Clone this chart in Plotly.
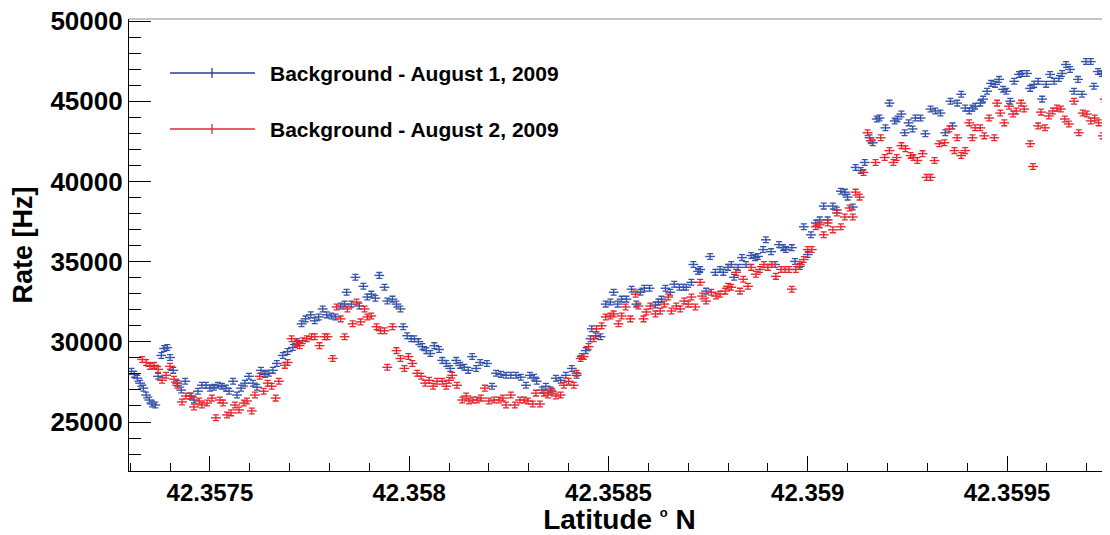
import plotly.graph_objects as go

# ---------------- data ----------------
lat_aug1 = [
    42.357303, 42.357310, 42.357318, 42.357325, 42.357333, 42.357340, 42.357348, 42.357355, 42.357363, 42.357370,
    42.357378, 42.357385, 42.357393, 42.357400, 42.357408, 42.357418, 42.357428, 42.357438, 42.357450, 42.357460,
    42.357470, 42.357480, 42.357490, 42.357500, 42.357510, 42.357520, 42.357530, 42.357540, 42.357548, 42.357558,
    42.357568, 42.357578, 42.357588, 42.357598, 42.357608, 42.357618, 42.357628, 42.357638, 42.357648, 42.357658,
    42.357668,
    42.357683, 42.357695, 42.357708, 42.357718, 42.357730, 42.357740, 42.357753, 42.357763, 42.357773, 42.357783,
    42.357793, 42.357805, 42.357815, 42.357828, 42.357838, 42.357843, 42.357855, 42.357865, 42.357875, 42.357885,
    42.357895, 42.357905, 42.357915, 42.357925, 42.357938, 42.357945, 42.357958, 42.357968, 42.357978, 42.357985,
    42.357995, 42.358005, 42.358013, 42.358023, 42.358033, 42.358043, 42.358053, 42.358063, 42.358075, 42.358083,
    42.358093, 42.358103, 42.358118, 42.358128, 42.358138, 42.358148, 42.358158, 42.358168, 42.358178, 42.358195,
    42.358208, 42.358218, 42.358230, 42.358243, 42.358255, 42.358268, 42.358280, 42.358293, 42.358303, 42.358313,
    42.358320, 42.358333, 42.358343, 42.358355, 42.358368, 42.358380, 42.358393,
    42.358408, 42.358420, 42.358433, 42.358443, 42.358455, 42.358458, 42.358468, 42.358480, 42.358493, 42.358505,
    42.358513, 42.358523, 42.358533, 42.358545, 42.358558, 42.358570, 42.358580, 42.358590, 42.358603, 42.358618,
    42.358625, 42.358633, 42.358643, 42.358655, 42.358665, 42.358678, 42.358688, 42.358695, 42.358708, 42.358713,
    42.358725, 42.358730, 42.358745, 42.358755, 42.358768, 42.358780, 42.358788, 42.358800, 42.358808, 42.358815,
    42.358825, 42.358835, 42.358845, 42.358858, 42.358868, 42.358875, 42.358888, 42.358895, 42.358908, 42.358918,
    42.358928, 42.358938, 42.358945, 42.358960, 42.358968, 42.358980, 42.358990, 42.359000, 42.359008, 42.359020,
    42.359030, 42.359040, 42.359050, 42.359063, 42.359073, 42.359083, 42.359093, 42.359100, 42.359113, 42.359120,
    42.359133, 42.359143, 42.359155, 42.359163, 42.359173, 42.359180, 42.359195, 42.359205, 42.359218, 42.359225,
    42.359235, 42.359243, 42.359253, 42.359263, 42.359270, 42.359283, 42.359295, 42.359308, 42.359320, 42.359333,
    42.359345, 42.359358, 42.359363, 42.359375, 42.359385, 42.359395, 42.359405, 42.359413, 42.359420, 42.359433,
    42.359440, 42.359450, 42.359460, 42.359470, 42.359480, 42.359490, 42.359498, 42.359508, 42.359518, 42.359530,
    42.359538, 42.359550, 42.359558, 42.359568, 42.359578, 42.359588, 42.359598, 42.359608, 42.359618, 42.359630,
    42.359638, 42.359648, 42.359658, 42.359668, 42.359678, 42.359688, 42.359698, 42.359710, 42.359718, 42.359728,
    42.359738, 42.359745,
]
rate_aug1 = [
    28160, 27970, 27730, 27420, 27110, 26680, 26370, 26120, 26060, 27850,
    29150, 29580, 29640, 29020, 28220, 27420, 26990, 27540, 26620, 26370,
    26920, 27290, 27290, 27110, 27170, 27290, 27230, 27110, 26920, 27540,
    26680, 27110, 27420, 27850, 27420, 27170, 28220, 27970, 28040, 28220,
    28650,
    29150, 29390, 29640, 30010, 31120, 31430, 31680, 31310, 31550, 32050,
    31680, 31610, 31550, 32230, 32350, 33090, 32350, 34020, 32230, 33460,
    32790, 32970, 32720, 34140, 33400, 32540, 32660, 32350, 32050, 30940,
    30380, 30190, 30190, 30010, 29700, 29450, 29270, 29760, 29520, 28840,
    28650, 28340, 28840, 28530, 28410, 28220, 29080, 28340, 28710, 28650,
    27230, 28040, 27970, 27910, 27910, 27910, 27790, 27290, 27910, 27790,
    27540, 26990, 27230, 26990, 27730, 27600, 27910,
    28340, 27910, 29080, 29450, 30190, 30810, 30380, 30320, 32350, 32480,
    33090, 32350, 32660, 32660, 33280, 32350, 33090, 33340, 33340, 32290,
    32480, 32660, 33340, 33090, 33590, 33400, 33400, 33400, 33710, 34820,
    34390, 34510, 33160, 35320, 34330, 34510, 34330, 34640, 34820, 34020,
    34640, 35250, 34820, 35380, 35250, 35320, 35750, 36360, 35620, 34820,
    36060, 35870, 35750, 35870, 35010, 34700, 37170, 35440, 36670, 37410,
    37600, 38460, 37600, 38460, 38220, 39390, 39330, 39020, 38400, 40870,
    40680, 41180, 42720, 42410, 43890, 43950, 43340, 44880, 43770, 43890,
    44200, 43030, 43650, 43270, 43950, 43950, 42970, 44510, 44390, 44260,
    43030, 45000, 43460, 44880, 45430, 44570, 44390, 44570, 44690, 44880,
    45130, 45620, 46110, 46050, 46360, 45740, 45620, 45000, 46240, 46670,
    46730, 46730, 45800, 46050, 46240, 45130, 46050, 46670, 46240, 46420,
    46730, 47290, 46980, 45620, 46360, 45430, 47470, 47470, 45930, 46850,
    46730, 46670,
]

lat_aug2 = [
    42.357330, 42.357340, 42.357350, 42.357360, 42.357370, 42.357380, 42.357390, 42.357400, 42.357410, 42.357418,
    42.357430, 42.357440, 42.357453, 42.357460, 42.357473, 42.357480, 42.357493, 42.357505, 42.357515, 42.357525,
    42.357533, 42.357543, 42.357553, 42.357563, 42.357573, 42.357585, 42.357593, 42.357605, 42.357613, 42.357625,
    42.357635, 42.357645, 42.357655, 42.357665, 42.357673, 42.357688, 42.357695, 42.357705, 42.357718, 42.357725,
    42.357733, 42.357743, 42.357755, 42.357763, 42.357775, 42.357788, 42.357795, 42.357808, 42.357818, 42.357828,
    42.357838, 42.357845, 42.357858, 42.357868, 42.357878, 42.357888, 42.357895, 42.357905, 42.357918, 42.357928,
    42.357938, 42.357945, 42.357958, 42.357968, 42.357978, 42.357988, 42.357998, 42.358008, 42.358020, 42.358030,
    42.358040, 42.358050, 42.358060, 42.358070, 42.358083, 42.358093, 42.358100, 42.358108, 42.358120, 42.358133,
    42.358143, 42.358150, 42.358160, 42.358170, 42.358180, 42.358190, 42.358200, 42.358213, 42.358225, 42.358235,
    42.358243, 42.358255, 42.358265, 42.358278, 42.358288, 42.358298, 42.358310, 42.358318, 42.358328, 42.358338,
    42.358348, 42.358358, 42.358368, 42.358380, 42.358388, 42.358400, 42.358413, 42.358420, 42.358430, 42.358438,
    42.358450, 42.358463, 42.358470, 42.358483, 42.358493, 42.358505, 42.358513, 42.358525, 42.358533, 42.358543,
    42.358555, 42.358568, 42.358575, 42.358588, 42.358595, 42.358605, 42.358618, 42.358630, 42.358640, 42.358650,
    42.358658, 42.358670, 42.358680, 42.358690, 42.358700, 42.358708, 42.358718, 42.358730, 42.358735, 42.358745,
    42.358758, 42.358770, 42.358780, 42.358793, 42.358800, 42.358808, 42.358820, 42.358830, 42.358838, 42.358850,
    42.358858, 42.358870, 42.358880, 42.358890, 42.358900, 42.358910, 42.358920, 42.358933, 42.358943, 42.358953,
    42.358960, 42.358970, 42.358980, 42.358990, 42.359000, 42.359010, 42.359020, 42.359030, 42.359040, 42.359050,
    42.359063, 42.359073, 42.359083, 42.359093, 42.359105, 42.359113, 42.359120, 42.359130, 42.359140, 42.359150,
    42.359158, 42.359170, 42.359183, 42.359193, 42.359205, 42.359215, 42.359223, 42.359235, 42.359245, 42.359258,
    42.359265, 42.359275, 42.359288, 42.359298, 42.359308, 42.359318, 42.359330, 42.359343, 42.359355, 42.359368,
    42.359375, 42.359385, 42.359395, 42.359405, 42.359413, 42.359420, 42.359433, 42.359443, 42.359455, 42.359468,
    42.359475, 42.359483, 42.359493, 42.359505, 42.359515, 42.359523, 42.359535, 42.359543, 42.359558, 42.359565,
    42.359578, 42.359585, 42.359595, 42.359605, 42.359615, 42.359625, 42.359635, 42.359645, 42.359655, 42.359668,
    42.359680, 42.359690, 42.359700, 42.359710, 42.359720, 42.359730, 42.359740, 42.359745,
]
rate_aug2 = [
    28900, 28710, 28470, 28530, 28280, 27600, 27910, 28470, 27670, 27290,
    26250, 26620, 26620, 25940, 26310, 26060, 26180, 26490, 25260, 26370,
    26180, 25440, 25570, 26060, 25750, 26180, 26310, 25690, 26680, 27850,
    26920, 27420, 27230, 26490, 27540, 28530, 28710, 30190, 29890, 29760,
    30070, 30190, 30320, 30320, 29760, 30320, 30320, 28960, 32170, 31430,
    30320, 32050, 31120, 32480, 31240, 32050, 31550, 31610, 30940, 30690,
    30690, 28410, 30940, 29450, 28960, 28340, 29080, 28650, 28040, 27850,
    27420, 27600, 27230, 27540, 27540, 27230, 27600, 27910, 27290, 26370,
    26620, 26310, 26370, 26370, 26490, 27110, 26310, 26370, 26370, 26490,
    26060, 26680, 26060, 26370, 26370, 26310, 26120, 26800, 26120, 26800,
    26680, 26920, 26620, 26680, 27290, 27540, 27290, 28040, 28960, 29080,
    29700, 30190, 30810, 31000, 31550, 31610, 31740, 31120, 31610, 32170,
    31430, 32970, 32230, 31430, 31860, 32230, 31740, 31920, 32350, 32790,
    31920, 32230, 32050, 32540, 32350, 32790, 32170, 33710, 32850, 32540,
    33090, 32850, 32970, 33160, 33460, 33400, 34330, 33160, 33900, 33460,
    34640, 34210, 34510, 34820, 34640, 34820, 34080, 34510, 34510, 34510,
    33280, 34510, 34820, 35130, 35750, 35750, 37170, 37290, 36670, 37410,
    36980, 38030, 37170, 37780, 38340, 37780, 39330, 39020, 40560, 43030,
    42530, 41180, 42720, 41490, 41920, 41180, 41490, 42230, 42040, 41610,
    41490, 41300, 41730, 40250, 40250, 41300, 42350, 42410, 43270, 41920,
    42720, 41610, 41920, 43650, 42720, 43340, 43340, 42840, 43950, 42720,
    44880, 44260, 43650, 44690, 44200, 44390, 44880, 44510, 42350, 40930,
    43460, 44320, 43340, 44080, 44390, 44570, 44510, 43890, 43580, 45000,
    43030, 44260, 44200, 43770, 43950, 43650, 42840, 45130,
]

rate_err = 180  # Hz, size of the error bars

series_names = ["Background - August 1, 2009", "Background - August 2, 2009"]
series_colors = ["#3553a8", "#e62630"]
legend_colors = ["#2a3c98", "#dc2a3a"]

x_tick_vals = [42.3575, 42.358, 42.3585, 42.359, 42.3595]
x_tick_text = ["42.3575", "42.358", "42.3585", "42.359", "42.3595"]
y_tick_vals = [25000, 30000, 35000, 40000, 45000, 50000]
y_tick_text = ["25000", "30000", "35000", "40000", "45000", "50000"]

x_range = [42.357297, 42.3597583]
y_range = [21945, 50125]

# ---------------- figure ----------------
FONT = "Liberation Sans, Arial, Helvetica, sans-serif"
fig = go.Figure()

for lat, rate, color, name in [
    (lat_aug1, rate_aug1, series_colors[0], series_names[0]),
    (lat_aug2, rate_aug2, series_colors[1], series_names[1]),
]:
    n = min(len(lat), len(rate))
    fig.add_trace(go.Scatter(
        x=lat[:n], y=rate[:n], mode="markers", name=name, showlegend=False,
        marker=dict(symbol="line-ew", size=7, color=color,
                    line=dict(color=color, width=1.4)),
        error_y=dict(type="constant", value=rate_err, color=color,
                     thickness=1.3, width=3),
    ))

# legend drawn ROOT-style: long line with a small cross, then the label
leg_y = [0.8805, 0.7566]
shapes = []
annotations = []
for i in range(2):
    shapes.append(dict(type="line", xref="paper", yref="paper",
                       x0=0.0418, x1=0.1284, y0=leg_y[i], y1=leg_y[i],
                       line=dict(color=legend_colors[i], width=1.3)))
    shapes.append(dict(type="line", xref="paper", yref="paper",
                       x0=0.0846, x1=0.0846, y0=leg_y[i] - 0.011, y1=leg_y[i] + 0.011,
                       line=dict(color=legend_colors[i], width=1.3)))
    annotations.append(dict(xref="paper", yref="paper", x=0.1417, y=leg_y[i],
                            xanchor="left", yanchor="middle", showarrow=False,
                            text=series_names[i],
                            font=dict(family=FONT, size=21, color="black", weight="bold")))

# top frame line (gray)
shapes.append(dict(type="line", xref="paper", yref="paper", x0=0, x1=1, y0=1, y1=1,
                   line=dict(color="#8c8c8c", width=1.2)))

# the page puts the figure 8 px in from the top-left corner, so the figure is
# made 8 px smaller and its left/top margins 8 px narrower
fig.update_layout(
    width=1102, height=527,
    margin=dict(l=121, r=0, t=11, b=64, autoexpand=False),
    paper_bgcolor="white", plot_bgcolor="white",
    font=dict(family=FONT, color="black"),
    shapes=shapes, annotations=annotations,
    showlegend=False,
)

fig.update_xaxes(
    range=x_range, showgrid=False, zeroline=False, automargin=False,
    showline=True, linecolor="black", linewidth=1.2,
    tickmode="array", tickvals=x_tick_vals, ticktext=x_tick_text,
    ticks="inside", ticklen=15, tickwidth=1.2, tickcolor="black",
    ticklabeloverflow="allow",
    tickfont=dict(family=FONT, size=24, color="black", weight="bold"),
    minor=dict(tick0=42.3575, dtick=0.0001, ticks="inside", ticklen=8,
               tickwidth=1.2, tickcolor="black", showgrid=False),
    title=dict(text="Latitude <sup><span style='font-size:13px'>o</span></sup> N", standoff=2,
               font=dict(family=FONT, size=28, color="black", weight="bold")),
)
fig.update_yaxes(
    range=y_range, showgrid=False, zeroline=False, automargin=False,
    showline=True, linecolor="black", linewidth=1.2,
    tickmode="array", tickvals=y_tick_vals, ticktext=y_tick_text,
    ticks="inside", ticklen=22, tickwidth=1.2, tickcolor="black",
    ticklabeloverflow="allow",
    tickfont=dict(family=FONT, size=26, color="black", weight="bold"),
    minor=dict(tick0=25000, dtick=1000, ticks="inside", ticklen=12,
               tickwidth=1.2, tickcolor="black", showgrid=False),
    title=dict(text="Rate [Hz]", standoff=10,
               font=dict(family=FONT, size=27, color="black", weight="bold")),
)

fig.write_html("out.html")
